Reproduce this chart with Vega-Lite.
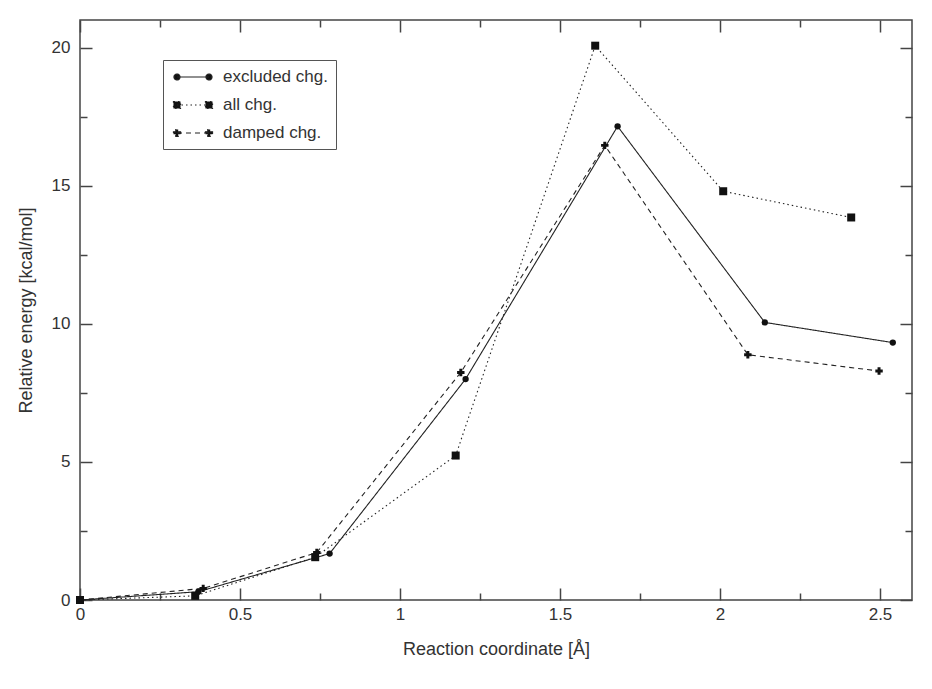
{
  "$schema": "https://vega.github.io/schema/vega-lite/v6.json",
  "width": 832,
  "height": 580,
  "autosize": {"type": "none"},
  "padding": {"left": 80, "top": 20, "right": 20, "bottom": 89},
  "background": "white",
  "config": {
    "view": {"stroke": "#444", "strokeWidth": 1.5},
    "axis": {
      "grid": false,
      "domain": false,
      "tickColor": "#444",
      "tickWidth": 1.5,
      "labelFont": "Liberation Sans",
      "labelFontSize": 17,
      "labelColor": "#333",
      "labelFlush": false,
      "titleFont": "Liberation Sans",
      "titleFontSize": 18,
      "titleFontWeight": "normal",
      "titleColor": "#333"
    }
  },
  "data": {
    "values": [
      {"series": "excluded chg.", "x": 0, "y": 0},
      {"series": "excluded chg.", "x": 0.37, "y": 0.3},
      {"series": "excluded chg.", "x": 0.78, "y": 1.68},
      {"series": "excluded chg.", "x": 1.205, "y": 8.0},
      {"series": "excluded chg.", "x": 1.68, "y": 17.15},
      {"series": "excluded chg.", "x": 2.14, "y": 10.05},
      {"series": "excluded chg.", "x": 2.54, "y": 9.32},
      {"series": "all chg.", "x": 0, "y": 0},
      {"series": "all chg.", "x": 0.36, "y": 0.15},
      {"series": "all chg.", "x": 0.735, "y": 1.55},
      {"series": "all chg.", "x": 1.174, "y": 5.23},
      {"series": "all chg.", "x": 1.61, "y": 20.07},
      {"series": "all chg.", "x": 2.01, "y": 14.8},
      {"series": "all chg.", "x": 2.41, "y": 13.85},
      {"series": "damped chg.", "x": 0, "y": 0},
      {"series": "damped chg.", "x": 0.385, "y": 0.42},
      {"series": "damped chg.", "x": 0.74, "y": 1.72},
      {"series": "damped chg.", "x": 1.19, "y": 8.24},
      {"series": "damped chg.", "x": 1.64, "y": 16.46},
      {"series": "damped chg.", "x": 2.087, "y": 8.88},
      {"series": "damped chg.", "x": 2.497, "y": 8.29}
    ]
  },
  "layer": [
    {
      "mark": {"type": "line", "color": "#222", "strokeWidth": 1.1},
      "encoding": {
        "x": {"field": "x", "type": "quantitative", "scale": {"domain": [0, 2.6], "nice": false, "zero": false},
          "axis": {"orient": "bottom", "values": [0, 0.5, 1, 1.5, 2, 2.5], "format": "~g", "tickSize": -12, "labelPadding": 18, "title": "Reaction coordinate [Å]", "titlePadding": 18}},
        "y": {"field": "y", "type": "quantitative", "scale": {"domain": [0, 21], "nice": false},
          "axis": {"orient": "left", "values": [0, 5, 10, 15, 20], "tickSize": -12, "labelPadding": 22, "title": "Relative energy [kcal/mol]", "titlePadding": 16}},
        "strokeDash": {
          "field": "series", "type": "nominal",
          "scale": {"domain": ["excluded chg.", "all chg.", "damped chg."], "range": [[1, 0], [1.5, 3], [5, 4]]},
          "legend": {
            "orient": "none", "legendX": 83, "legendY": 40, "title": null,
            "strokeColor": "#555", "padding": 8, "fillColor": "white",
            "symbolSize": 256, "symbolOffset": 13, "symbolStrokeWidth": 1.2, "symbolStrokeColor": "#222",
            "labelFont": "Liberation Sans", "labelFontSize": 17, "labelColor": "#333", "labelOffset": 21,
            "rowPadding": 11,
            "encode": {
              "symbols": {
                "update": {
                  "fill": {"value": "#111"},
                  "stroke": {"value": "#222"},
                  "strokeWidth": {"value": 1.2},
                  "opacity": {"value": 1},
                  "shape": {"signal": "datum.value === 'excluded chg.' ? 'M-2,0L2,0M-2.375,0a0.375,0.375 0 1,0 0.75,0a0.375,0.375 0 1,0 -0.75,0M1.625,0a0.375,0.375 0 1,0 0.75,0a0.375,0.375 0 1,0 -0.75,0' : datum.value === 'all chg.' ? 'M-2,0L2,0M-2.44,-0.44h0.88v0.88h-0.88zM1.56,-0.44h0.88v0.88h-0.88z' : 'M-2,0L2,0M-2.44,-0.15h0.29v-0.29h0.3v0.29h0.29v0.3h-0.29v0.29h-0.3v-0.29h-0.29zM1.56,-0.15h0.29v-0.29h0.3v0.29h0.29v0.3h-0.29v0.29h-0.3v-0.29h-0.29z'"}
                }
              }
            }
          }
        }
      }
    },
    {
      "transform": [{"filter": "datum.series === 'excluded chg.'"}],
      "mark": {"type": "point", "filled": true, "color": "#111", "opacity": 1, "shape": "circle", "size": 40},
      "encoding": {
        "x": {"field": "x", "type": "quantitative", "axis": null},
        "y": {"field": "y", "type": "quantitative", "axis": null}
      }
    },
    {
      "transform": [{"filter": "datum.series === 'all chg.'"}],
      "mark": {"type": "point", "filled": true, "color": "#111", "opacity": 1, "shape": "square", "size": 64},
      "encoding": {
        "x": {"field": "x", "type": "quantitative", "axis": null},
        "y": {"field": "y", "type": "quantitative", "axis": null}
      }
    },
    {
      "transform": [{"filter": "datum.series === 'damped chg.'"}],
      "mark": {"type": "point", "filled": true, "color": "#111", "opacity": 1, "shape": "cross", "size": 55},
      "encoding": {
        "x": {"field": "x", "type": "quantitative", "axis": null},
        "y": {"field": "y", "type": "quantitative", "axis": null}
      }
    },
    {
      "mark": {"type": "point", "opacity": 0},
      "encoding": {
        "x": {"field": "x", "type": "quantitative",
          "axis": {"orient": "bottom", "values": [0.25, 0.75, 1.25, 1.75, 2.25], "tickSize": -7, "labels": false, "title": null}},
        "y": {"field": "y", "type": "quantitative",
          "axis": {"orient": "left", "values": [2.5, 7.5, 12.5, 17.5], "tickSize": -7, "labels": false, "title": null}}
      }
    },
    {
      "mark": {"type": "point", "opacity": 0},
      "encoding": {
        "x": {"field": "x", "type": "quantitative",
          "axis": {"orient": "top", "values": [0, 0.5, 1, 1.5, 2, 2.5], "tickSize": -12, "labels": false, "title": null}},
        "y": {"field": "y", "type": "quantitative",
          "axis": {"orient": "right", "values": [0, 5, 10, 15, 20], "tickSize": -12, "labels": false, "title": null}}
      }
    },
    {
      "mark": {"type": "point", "opacity": 0},
      "encoding": {
        "x": {"field": "x", "type": "quantitative",
          "axis": {"orient": "top", "values": [0.25, 0.75, 1.25, 1.75, 2.25], "tickSize": -7, "labels": false, "title": null}},
        "y": {"field": "y", "type": "quantitative",
          "axis": {"orient": "right", "values": [2.5, 7.5, 12.5, 17.5], "tickSize": -7, "labels": false, "title": null}}
      }
    }
  ],
  "resolve": {"axis": {"x": "independent", "y": "independent"}}
}
